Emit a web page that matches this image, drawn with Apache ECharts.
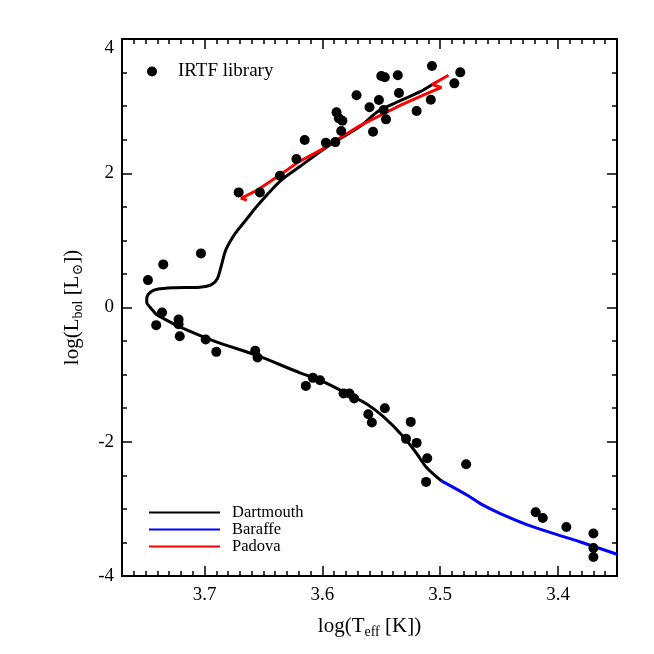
<!DOCTYPE html>
<html>
<head>
<meta charset="utf-8">
<script src="https://cdn.jsdelivr.net/npm/echarts@6/dist/echarts.min.js"></script>
<style>
  html, body { margin: 0; padding: 0; background: #fff; }
  #hr { width: 654px; height: 654px; }
</style>
</head>
<body>
<div id="hr"></div>
<script>
// IRTF library stars: [log Teff, log Lbol]
const irtfStars = [
  [3.671, 1.715], [3.653, 1.715], [3.636, 1.963], [3.622, 2.211], [3.615, 2.495],
  [3.597, 2.454], [3.589, 2.464], [3.588, 2.907], [3.586, 2.818], [3.583, 2.782],
  [3.584, 2.629], [3.571, 3.161], [3.560, 2.982], [3.557, 2.618], [3.552, 3.091],
  [3.550, 3.448], [3.547, 3.429], [3.548, 2.942], [3.546, 2.803], [3.536, 3.459],
  [3.535, 3.195], [3.520, 2.927], [3.508, 3.095], [3.507, 3.598], [3.488, 3.339],
  [3.483, 3.503],
  [3.748, 0.408], [3.735, 0.642], [3.703, 0.806], [3.736, -0.074], [3.741, -0.263],
  [3.722, -0.178], [3.722, -0.248], [3.721, -0.427], [3.699, -0.476], [3.690, -0.661],
  [3.657, -0.646], [3.655, -0.745], [3.614, -1.168], [3.608, -1.048], [3.602, -1.083],
  [3.582, -1.281], [3.577, -1.281], [3.573, -1.356], [3.561, -1.589], [3.558, -1.714],
  [3.547, -1.500], [3.529, -1.957], [3.525, -1.704], [3.520, -2.017], [3.511, -2.245],
  [3.512, -2.598], [3.478, -2.335], [3.419, -3.050], [3.413, -3.135], [3.393, -3.269],
  [3.370, -3.368], [3.370, -3.582], [3.370, -3.717]
];

// isochrones
const dartmouth = [
  [3.506, 3.33], [3.517, 3.215], [3.536, 3.065], [3.552, 2.93], [3.568, 2.70],
  [3.591, 2.45], [3.602, 2.32], [3.619, 2.10], [3.636, 1.88], [3.655, 1.52],
  [3.665, 1.30], [3.672, 1.15], [3.676, 1.05], [3.682, 0.855], [3.686, 0.606],
  [3.689, 0.433], [3.694, 0.340], [3.704, 0.302], [3.727, 0.293], [3.741, 0.269],
  [3.745, 0.239], [3.748, 0.189], [3.749, 0.135], [3.749, 0.075], [3.747, 0.020],
  [3.744, -0.040], [3.741, -0.100], [3.735, -0.163], [3.721, -0.288],
  [3.690, -0.512], [3.656, -0.710], [3.619, -0.974], [3.602, -1.083], [3.582, -1.257],
  [3.563, -1.43], [3.548, -1.63], [3.531, -1.928], [3.520, -2.175], [3.512, -2.375],
  [3.499, -2.583]
];
const baraffe = [
  [3.499, -2.583], [3.477, -2.797], [3.466, -2.921], [3.449, -3.069], [3.421, -3.269],
  [3.381, -3.493], [3.350, -3.676]
];
const padova = [
  [3.664, 1.60], [3.669, 1.625], [3.655, 1.75], [3.638, 1.95], [3.621, 2.16],
  [3.600, 2.36], [3.580, 2.58], [3.568, 2.71], [3.551, 2.86], [3.534, 3.01],
  [3.515, 3.16], [3.499, 3.28], [3.507, 3.32], [3.493, 3.46]
];

const xMajor = [3.4, 3.5, 3.6, 3.7];
const serif = 'Liberation Serif, DejaVu Serif, serif';

let chart = echarts.init(document.getElementById('hr'));

// x axes: one carries the 0.01 minor ticks, the other the long major ticks
function xAx(pos, major, extra) {
  return Object.assign({
    type: 'value', position: pos, min: 3.35, max: 3.77, inverse: true, interval: 0.01,
    axisLine: { show: !major, onZero: false, lineStyle: { color: '#000', width: 2 } },
    axisTick: major
      ? { show: true, inside: true, length: 10, customValues: xMajor, lineStyle: { color: '#000', width: 1.5 } }
      : { show: true, inside: true, length: 5, lineStyle: { color: '#000', width: 1.5 } },
    axisLabel: { show: false },
    splitLine: { show: false }
  }, extra || {});
}
function yAx(pos, extra) {
  return Object.assign({
    type: 'value', position: pos, min: -4, max: 4, interval: 2,
    axisLine: { show: true, onZero: false, lineStyle: { color: '#000', width: 2 } },
    axisTick: { show: true, inside: true, length: 10, lineStyle: { color: '#000', width: 1.5 } },
    minorTick: { show: true, splitNumber: 4, length: 5, lineStyle: { color: '#000', width: 1.5 } },
    axisLabel: { show: false },
    splitLine: { show: false }
  }, extra || {});
}

const titleStyle = {
  fontFamily: serif, fontSize: 21, color: '#000', lineHeight: 26,
  rich: { sub: { fontFamily: serif, fontSize: 14, lineHeight: 14, verticalAlign: 'bottom' } }
};

let option = {
  animation: false,
  backgroundColor: '#fff',
  grid: { left: 122, right: 37, top: 39, bottom: 78 },
  legend: [
    {
      data: ['IRTF library'], left: 147, top: 62, padding: 0,
      icon: 'circle', itemWidth: 10, itemHeight: 10, selectedMode: false,
      textStyle: { fontFamily: serif, fontSize: 19, color: '#000', padding: [0, 0, 0, 16] }
    },
    {
      data: ['Dartmouth', 'Baraffe', 'Padova'], orient: 'vertical', left: 149, top: 504,
      padding: 0, icon: 'rect', itemWidth: 71, itemHeight: 2, itemGap: 0, selectedMode: false,
      textStyle: { fontFamily: serif, fontSize: 16.5, color: '#000', padding: [0, 0, 0, 7] }
    }
  ],
  xAxis: [
    xAx('bottom', false, {
      name: 'log(T{sub|eff} [K])', nameLocation: 'middle', nameGap: 37,
      nameTextStyle: titleStyle,
      axisLabel: {
        show: true, customValues: xMajor, margin: 10,
        fontFamily: serif, fontSize: 19, color: '#000',
        formatter: v => v.toFixed(1)
      }
    }),
    xAx('bottom', true),
    xAx('top', false),
    xAx('top', true)
  ],
  yAxis: [
    yAx('left', {
      name: 'log(L{sub|bol} [L{sub|⊙}])', nameLocation: 'middle', nameGap: 37,
      nameTextStyle: titleStyle,
      axisLabel: {
        show: true, margin: 8, fontFamily: serif, fontSize: 19, color: '#000',
        verticalAlignMaxLabel: 'top'
      }
    }),
    yAx('right')
  ],
  series: [
    {
      name: 'Dartmouth', type: 'line', data: dartmouth, showSymbol: false, symbol: 'none',
      smooth: 0.3, lineStyle: { color: '#000', width: 3 }, itemStyle: { color: '#000' }, z: 2
    },
    {
      name: 'Baraffe', type: 'line', data: baraffe, showSymbol: false, symbol: 'none',
      smooth: 0.3, lineStyle: { color: '#0000ff', width: 3 }, itemStyle: { color: '#0000ff' }, z: 2
    },
    {
      name: 'Padova', type: 'line', data: padova, showSymbol: false, symbol: 'none',
      lineStyle: { color: '#ff0000', width: 3 }, itemStyle: { color: '#ff0000' }, z: 3
    },
    {
      name: 'IRTF library', type: 'scatter', data: irtfStars, symbol: 'circle', symbolSize: 10,
      itemStyle: { color: '#000', opacity: 1 }, z: 4
    }
  ]
};
chart.setOption(option);
</script>
</body>
</html>
